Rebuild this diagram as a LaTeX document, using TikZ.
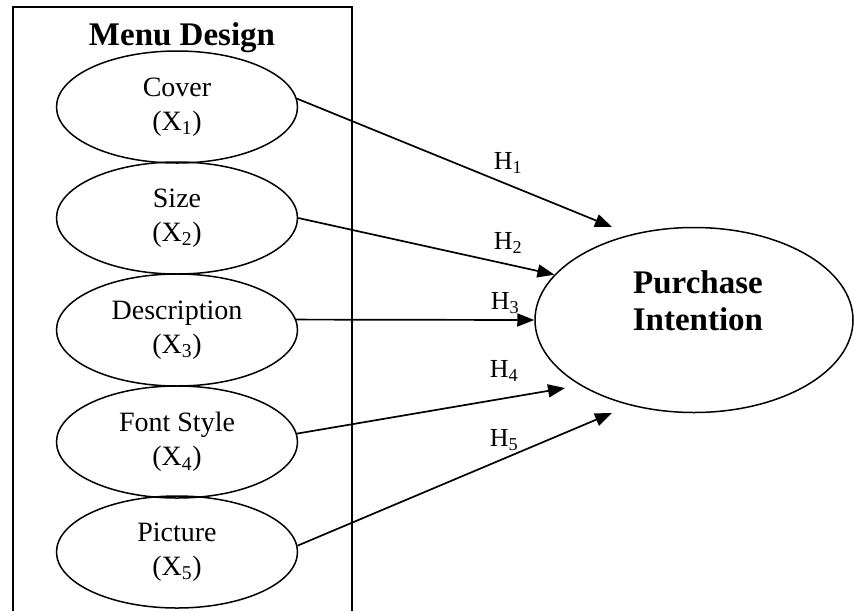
\documentclass[tikz,border=0pt]{standalone}
\usepackage{fontspec}
\setmainfont{Liberation Serif}
\usetikzlibrary{shapes.geometric, arrows.meta}

\begin{document}
\begin{tikzpicture}[x=1pt, y=-1pt, line width=1.5pt,
  every node/.style = {align=center, font=\fontsize{28}{34}\selectfont},
  var/.style = {draw, ellipse, minimum width=241pt, minimum height=112pt, inner sep=0pt},
  title/.style = {font=\fontsize{33}{37}\selectfont\bfseries},
  hyp/.style = {-{Triangle[length=17pt, width=13pt]}, line width=1.7pt},
  hlabel/.style = {font=\fontsize{26}{30}\selectfont}]
%\footnotesize
\useasboundingbox (0,0) rectangle (854,611);

% frame of the menu design block, open at the bottom
\draw[line width=2pt] (13,611) -- (13,7) -- (352,7) -- (352,611);
\node[title] (menu) at (182,38) {Menu Design};

\node[var] (cover) at (177,107) {Cover\\(X\textsubscript{1})};
\node[var] (size)  at (177,218) {Size\\(X\textsubscript{2})};
\node[var] (desc)  at (177,330) {Description\\(X\textsubscript{3})};
\node[var] (font)  at (177,442) {Font Style\\(X\textsubscript{4})};
\node[var] (pict)  at (177,552) {Picture\\(X\textsubscript{5})};

\node[draw, ellipse, minimum width=318pt, minimum height=185pt] (purchase) at (694,320) {};
\node[title] (pitext) at (698,301) {Purchase\\Intention};

\coordinate (t1) at (612,227);
\coordinate (t4) at (565,388);
\coordinate (t5) at (612,413);

\draw[hyp] (cover.4) -- (t1);
\draw[hyp] (size.east) -- (purchase.162);
\draw[hyp] (desc.5) -- (purchase.west);
\draw[hyp] (font.4) -- (t4);
\draw[hyp] (pict.3) -- (t5);

\node[hlabel] (h1) at (508,163) {H\textsubscript{1}};
\node[hlabel] (h2) at (508,243) {H\textsubscript{2}};
\node[hlabel] (h3) at (505,303) {H\textsubscript{3}};
\node[hlabel] (h4) at (504,371) {H\textsubscript{4}};
\node[hlabel] (h5) at (504,440) {H\textsubscript{5}};
\end{tikzpicture}
\end{document}
